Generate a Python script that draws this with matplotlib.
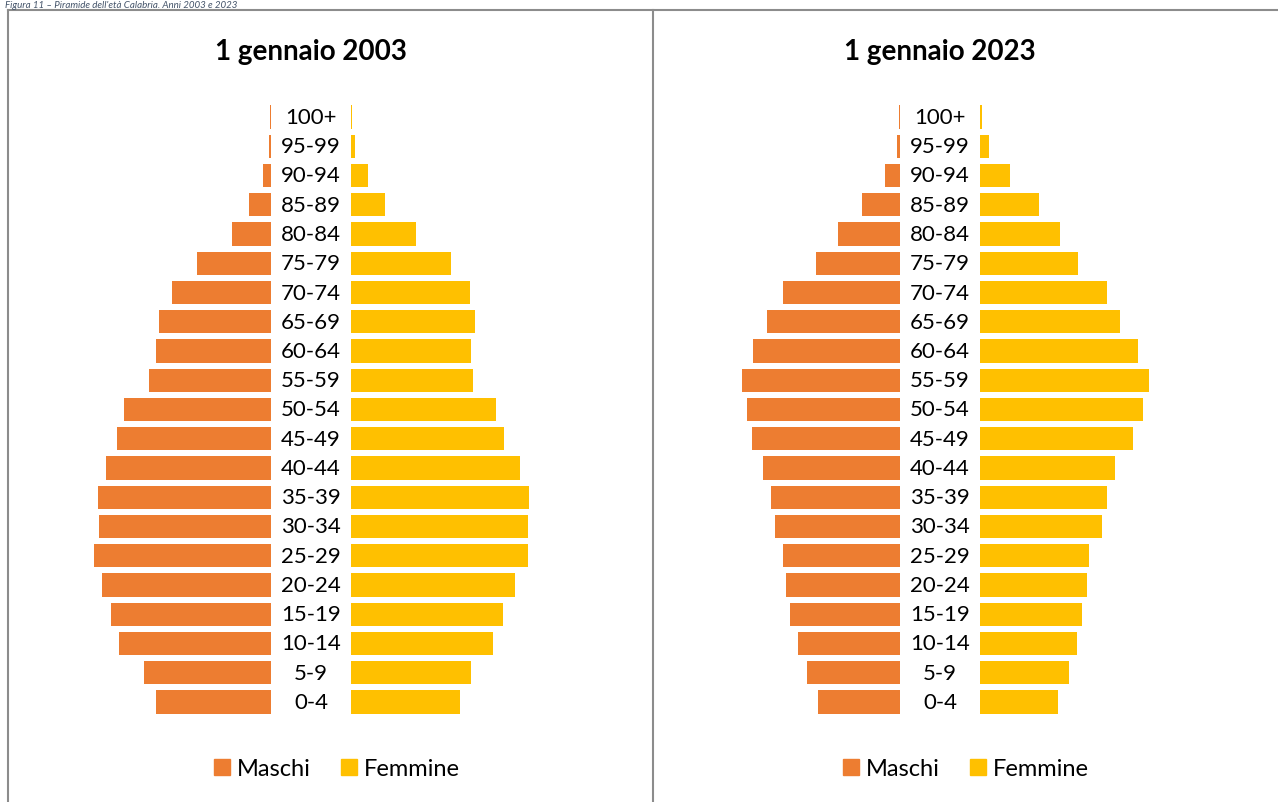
import matplotlib
matplotlib.use('Agg')
import matplotlib.pyplot as plt
from matplotlib.lines import Line2D
from matplotlib.patches import Patch

# Age classes (bottom to top)
age_labels = ['0-4', '5-9', '10-14', '15-19', '20-24', '25-29', '30-34', '35-39',
              '40-44', '45-49', '50-54', '55-59', '60-64', '65-69', '70-74',
              '75-79', '80-84', '85-89', '90-94', '95-99', '100+']

# Population in thousands
maschi_2003 = [52.9, 58.4, 69.5, 73.6, 77.7, 81.0, 78.7, 79.6, 75.9, 70.8, 67.6,
               56.1, 52.9, 51.5, 45.5, 34.0, 17.9, 9.7, 3.7, 0.9, 0.2]
femmine_2003 = [50.1, 55.2, 65.3, 69.9, 75.4, 81.0, 81.0, 81.9, 77.7, 70.4, 66.7,
                56.1, 55.2, 57.0, 54.7, 46.0, 29.9, 15.6, 7.4, 1.8, 0.4]
maschi_2023 = [37.3, 42.8, 46.5, 50.6, 52.4, 53.4, 57.5, 59.3, 62.6, 68.1, 70.4,
               72.7, 67.6, 61.2, 53.4, 38.6, 28.5, 17.5, 6.9, 1.4, 0.3]
femmine_2023 = [35.9, 40.9, 44.2, 46.9, 48.8, 50.1, 55.7, 58.0, 62.1, 70.4, 75.0,
                77.7, 72.7, 64.4, 58.4, 45.1, 36.8, 27.1, 13.8, 4.1, 0.9]

panels = [('1 gennaio 2003', maschi_2003, femmine_2003),
          ('1 gennaio 2023', maschi_2023, femmine_2023)]

ORANGE = '#ED7D31'
YELLOW = '#FFC000'
FONT = 'Lato'

W, H = 1278, 803
fig = plt.figure(figsize=(W / 100, H / 100), dpi=100)

# pixel layout helpers
px_per_k = 1 / 0.46          # pixels per thousand people
half_w = 251                 # half width of axes, px
gap = 18.6                   # half gap for labels, thousands
centers = [311, 940]
row_h = 29.25
y_top, y_bot = 118, 703
ax_h = 21.2 * row_h
ax_cy = (y_top + y_bot) / 2

for (title, m, f), cx in zip(panels, centers):
    left = (cx - half_w) / W
    bottom = (H - (ax_cy + ax_h / 2)) / H
    ax = fig.add_axes([left, bottom, 2 * half_w / W, ax_h / H])
    pos = list(range(len(age_labels)))
    ax.barh(pos, [-v for v in m], left=-gap, height=0.8, color=ORANGE)
    ax.barh(pos, f, left=gap, height=0.8, color=YELLOW)
    for p, lab in zip(pos, age_labels):
        ax.text(0, p, lab, ha='center', va='center', fontsize=16, family=FONT)
    lim = half_w / px_per_k
    ax.set_xlim(-lim, lim)
    ax.set_ylim(-0.6, 20.6)
    ax.axis('off')

    fig.text(cx / W, 1 - 52 / H, title, ha='center', va='center',
             fontsize=20, fontweight='bold', family=FONT)

    handles = [Patch(color=ORANGE, label='Maschi'), Patch(color=YELLOW, label='Femmine')]
    fig.legend(handles=handles, loc='center', bbox_to_anchor=((cx + 26) / W, 1 - 770 / H),
               ncol=2, frameon=False, prop={'family': FONT, 'size': 17},
               handlelength=0.65, handleheight=0.65, handletextpad=0.3, columnspacing=1.3)

# panel borders
border = '#8c8c8c'
fig.add_artist(Line2D([8 / W, 8 / W], [0, 1 - 11 / H], color=border, lw=1.5))
fig.add_artist(Line2D([653 / W, 653 / W], [0, 1 - 11 / H], color=border, lw=1.5))
fig.add_artist(Line2D([8 / W, 1], [1 - 11 / H, 1 - 11 / H], color=border, lw=1.5))

# caption above the frame
fig.text(5 / W, 1 - 1 / H, "Figura 11 \u2013 Piramide dell'et\u00e0 Calabria. Anni 2003 e 2023",
         ha='left', va='top', fontsize=7, style='italic', color='#44546A',
         family=FONT)

fig.savefig('out.png', dpi=100)
